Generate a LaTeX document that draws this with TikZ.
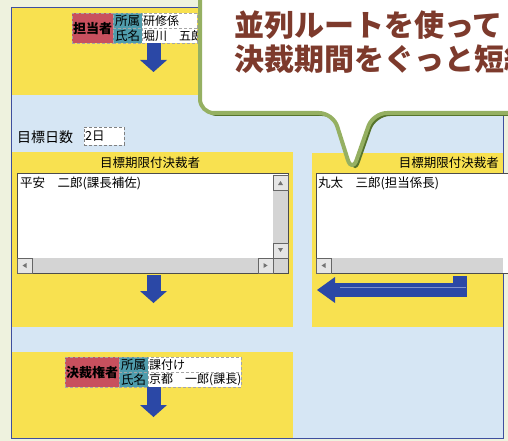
\documentclass[tikz,border=0pt]{standalone}
\usepackage{fontspec}
\setmainfont{Noto Sans CJK JP}
\usetikzlibrary{arrows.meta}

\definecolor{bgout}{HTML}{EEF2DE}
\definecolor{pale}{HTML}{D6E6F4}
\definecolor{band}{HTML}{F8E150}
\definecolor{rolered}{HTML}{C8505E}
\definecolor{cellteal}{HTML}{4F9CAC}
\definecolor{arrblue}{HTML}{2B48A6}
\definecolor{framebl}{HTML}{3F4F9E}
\definecolor{leafgr}{HTML}{95B062}
\definecolor{leafdk}{HTML}{56742C}
\definecolor{talk}{HTML}{7D3A2C}
\definecolor{track}{HTML}{D4D4D4}

\begin{document}
\begin{tikzpicture}[x=1pt,y=-1pt,
  txt/.style={inner sep=0pt,font=\fontsize{12.5}{13}\selectfont},
  rolecell/.style={draw=gray!70,densely dashed,fill=rolered,inner sep=0pt,anchor=north west,minimum height=30,font=\fontsize{13}{13}\selectfont\bfseries},
  keycell/.style={draw=gray!70,densely dashed,fill=cellteal,inner sep=0pt,anchor=north west,minimum width=29,minimum height=15,font=\fontsize{12.5}{13}\selectfont},
  valcell/.style={draw=gray!70,densely dashed,fill=white,inner xsep=1pt,inner ysep=0pt,anchor=north west,minimum height=15,text width=#1,align=left,font=\fontsize{12}{13}\selectfont},
  listbox/.style={draw=black!70,fill=white,inner sep=0pt,anchor=north west},
  sbtn/.style={draw=black!60,fill=black!10},
  downarr/.style={draw=arrblue,line width=14pt,-{Triangle[length=12pt,width=27pt,line width=0pt]}},
  sidearr/.style={draw=arrblue,line width=14pt,-{Triangle[length=18pt,width=26pt,line width=0pt]}},
  bubble/.style={draw=leafgr,line width=4pt,fill=white,line join=round},
  talkfont/.style={inner sep=0pt,anchor=west,text=talk,font=\fontsize{30}{31}\selectfont\bfseries}
]
\useasboundingbox (0,0) rectangle (508,441);
\clip (0,0) rectangle (508,441);

\fill[bgout] (0,0) rectangle (508,441);
\fill[pale] (11.5,7.5) rectangle (503.5,438.5);

\fill[band] (12,8) rectangle (293,95);
\fill[band] (12,152) rectangle (293,327);
\fill[band] (312,153) rectangle (503,327);
\fill[band] (12,352) rectangle (293,438);

\draw[framebl, line width=1pt] (11.5,7.5) rectangle (503.5,438.5);

% tanto
\node[rolecell, minimum width=41] (tanto) at (72,13) {担当者};
\node[keycell] (tshozoku) at (113,13) {所属};
\node[keycell] (tshimei) at (113,28) {氏名};
\node[valcell=53] (tbusho) at (142,13) {研修係};
\node[valcell=53] (tname) at (142,28) {堀川　五郎};
\coordinate (tfrom) at (153.5,43);
\coordinate (tto) at (153.5,72);
\draw[downarr] (tfrom) -- (tto);

% days
\node[txt, anchor=west, font=\fontsize{14}{14}\selectfont] (dayslbl) at (17,137) {目標日数};
\node[draw=gray, densely dashed, fill=white, anchor=north west, minimum width=40, minimum height=18,
      inner sep=1pt, text width=38, align=left, font=\fontsize{12.5}{13}\selectfont] (days) at (84,127) {2日};

% left approver
\node[txt] (ltitle) at (150,163) {目標期限付決裁者};
\node[listbox, minimum width=271, minimum height=100] (lbox) at (17,173) {};
\fill[track] (273,175) rectangle (288,258);
\fill[track] (17,258) rectangle (288,273);
\draw[sbtn] (273,175) rectangle (288,190);
\draw[sbtn] (273,243) rectangle (288,258);
\draw[sbtn] (17,258) rectangle (32,273);
\draw[sbtn] (258,258) rectangle (273,273);
\fill[black!55] (278,185) -- (283,185) -- (280.5,181) -- cycle;
\fill[black!55] (278,248) -- (283,248) -- (280.5,252) -- cycle;
\fill[black!55] (26.5,263) -- (26.5,268) -- (22.5,265.5) -- cycle;
\fill[black!55] (263.5,263) -- (263.5,268) -- (267.5,265.5) -- cycle;
\node[txt, anchor=west] (lname) at (20,183) {平安　二郎(課長補佐)};
\coordinate (lfrom) at (153.5,275);
\coordinate (lto) at (153.5,303);
\draw[downarr] (lfrom) -- (lto);

% right approver
\node[txt, anchor=east] (rtitle) at (499,163) {目標期限付決裁者};
\node[listbox, minimum width=192, minimum height=100] (rbox) at (316,173) {};
\fill[track] (316,258) rectangle (503,273);
\draw[sbtn] (316,258) rectangle (331,273);
\fill[black!55] (325.5,263) -- (325.5,268) -- (321.5,265.5) -- cycle;
\node[txt, anchor=west] (rname) at (318,183) {丸太　三郎(担当係長)};
\coordinate (rfrom) at (459.5,276);
\coordinate (rto) at (317,290);
\draw[sidearr] (rfrom) |- (rto);
\draw[arrblue!60!white, line width=1pt] (340,287.5) -- (466,287.5);

% kessai
\node[rolecell, minimum width=54] (kessai) at (65,357) {決裁権者};
\node[keycell] (kshozoku) at (119,357) {所属};
\node[keycell] (kshimei) at (119,372) {氏名};
\node[valcell=91] (kbusho) at (148,357) {課付け};
\node[valcell=91] (kname) at (148,372) {京都　一郎(課長)};
\coordinate (kfrom) at (153.5,387);
\coordinate (kto) at (153.5,417);
\draw[downarr] (kfrom) -- (kto);

% callout
\fill[leafdk, rounded corners=14pt] (336,116) -- (355,176) -- (376,116) -- (535,116) -- (535,-30) -- (203,-30) -- (203,116) -- cycle;
\draw[bubble, rounded corners=14pt] (333,113) -- (352,173) -- (373,113) -- (535,113) -- (535,-30) -- (200,-30) -- (200,113) -- cycle;
\node[talkfont] (talk1) at (234,25) {並列ルートを使って};
\node[talkfont] (talk2) at (234,59) {決裁期間をぐっと短縮};
\end{tikzpicture}
\end{document}
